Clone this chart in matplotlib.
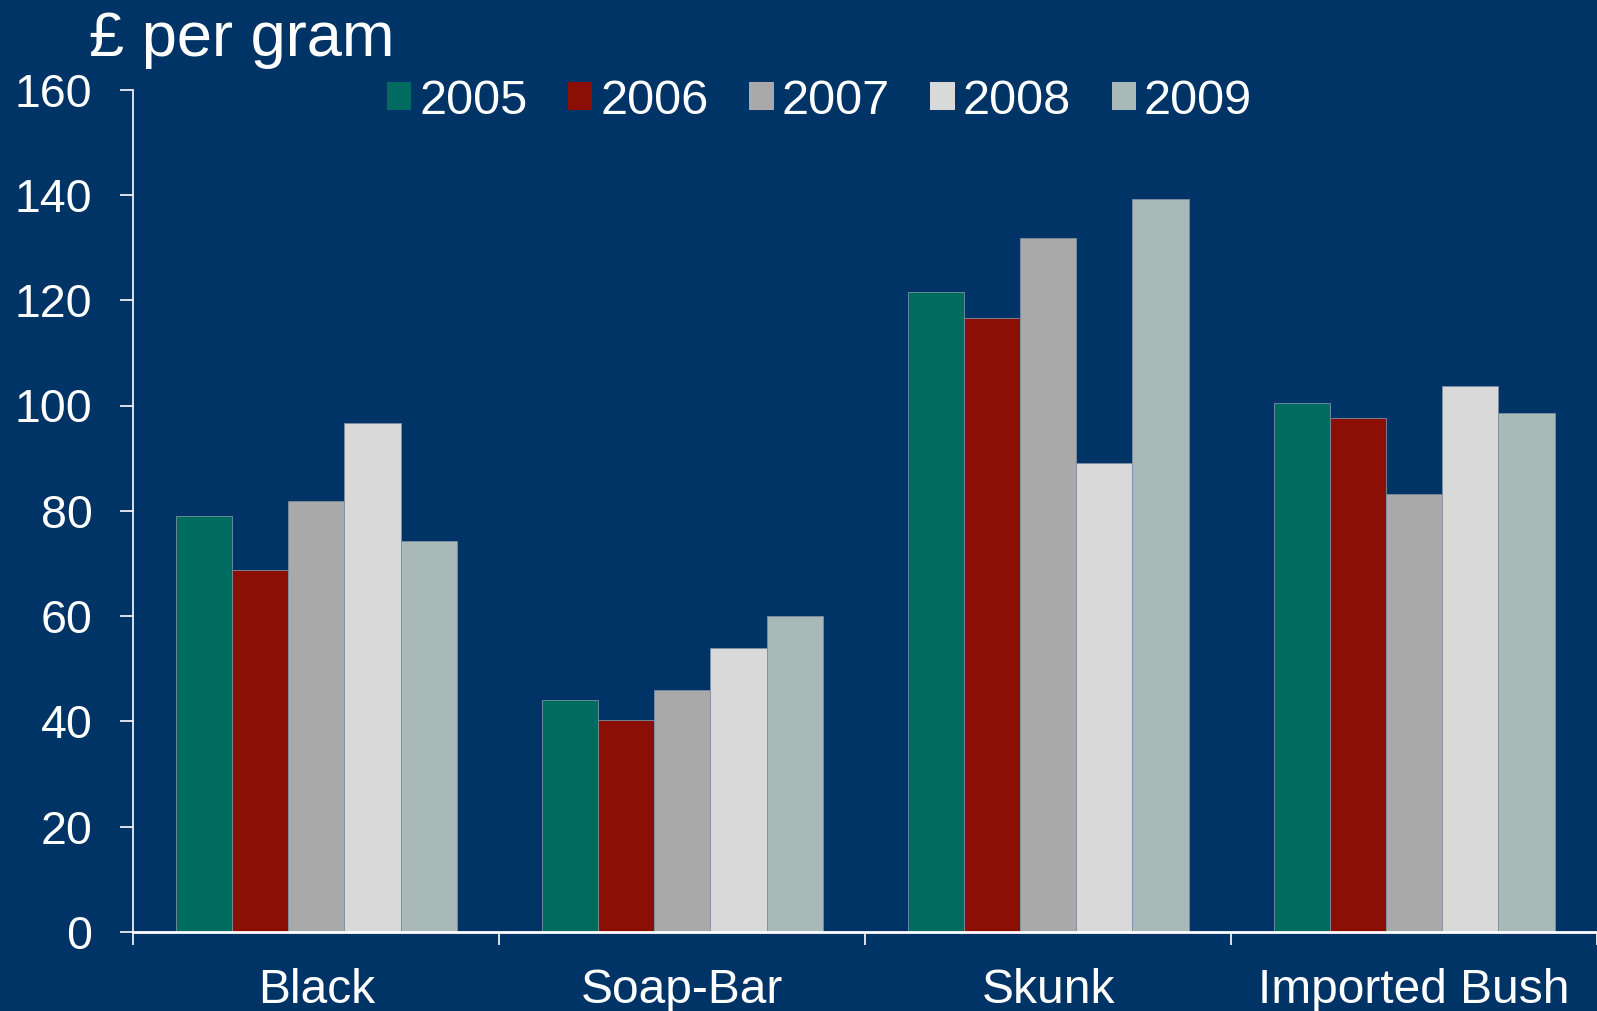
import matplotlib.pyplot as plt
from matplotlib.patches import Patch
import numpy as np

categories = ['Black', 'Soap-Bar', 'Skunk', 'Imported Bush']
years = ['2005', '2006', '2007', '2008', '2009']
v2005 = [79.1, 44.1, 121.5, 100.4]
v2006 = [68.7, 40.2, 116.6, 97.7]
v2007 = [81.8, 46.0, 131.9, 83.2]
v2008 = [96.7, 54.0, 89.0, 103.7]
v2009 = [74.3, 60.0, 139.3, 98.5]
y_ticks = [0, 20, 40, 60, 80, 100, 120, 140, 160]

series = [v2005, v2006, v2007, v2008, v2009]
colors = ['#006b5f', '#8b0f04', '#a9a9a9', '#d9d9d9', '#a9b9b8']
bg = '#003366'

plt.rcParams['font.family'] = ['Liberation Sans', 'DejaVu Sans']

fig = plt.figure(figsize=(15.97, 10.11), dpi=100, facecolor=bg)
ax = fig.add_axes([133.4 / 1597, 79 / 1011, 1 - 133.4 / 1597, (932 - 89.6) / 1011])
ax.set_facecolor(bg)

x = np.arange(len(categories))
w = 0.1536
for i, (vals, c) in enumerate(zip(series, colors)):
    ax.bar(x + (i - 2) * w, vals, width=w, color=c, edgecolor='#7d90a3',
           linewidth=0.6, label=years[i], zorder=2)

ax.set_xlim(-0.5, len(categories) - 0.5)
ax.set_ylim(0, 160)
ax.set_yticks(y_ticks)

ax.set_xticks(x)
ax.set_xticklabels(categories)
ax.set_xticks(np.arange(len(categories) + 1) - 0.5, minor=True)
ax.tick_params(axis='x', which='major', length=0, pad=26, labelsize=34.5, colors='white')
ax.tick_params(axis='x', which='minor', length=9.5, width=1.2, color='white', direction='out')
ax.tick_params(axis='y', length=9.5, width=1.2, pad=20, labelsize=33.5, colors='white', direction='out')

for side in ['top', 'right']:
    ax.spines[side].set_visible(False)
ax.spines['left'].set_color('white')
ax.spines['left'].set_linewidth(1.2)
ax.spines['bottom'].set_color('white')
ax.spines['bottom'].set_linewidth(2.0)

fig.text(88.6 / 1597, 1 - 56 / 1011, '£ per gram', color='white', fontsize=45.5, va='baseline')

handles = [Patch(facecolor=c, edgecolor='none') for c in colors]
leg = fig.legend(handles, years, loc='center left', bbox_to_anchor=(387 / 1597, 1 - 101 / 1011),
                 ncol=5, frameon=False, fontsize=35, handlelength=0.5, handleheight=0.5,
                 handletextpad=0.16, columnspacing=0.84, borderpad=0, borderaxespad=0)
for t in leg.get_texts():
    t.set_color('white')

fig.savefig('out.png', dpi=100, facecolor=bg)
